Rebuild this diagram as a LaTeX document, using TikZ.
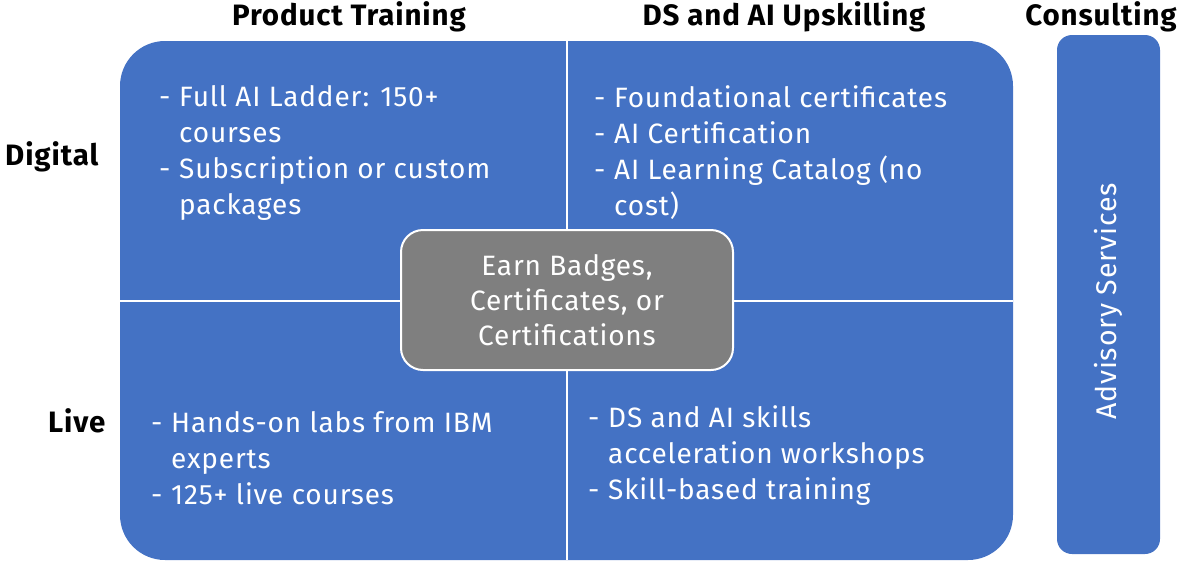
\documentclass[tikz,border=0pt]{standalone}
\usepackage{fontspec}
\usetikzlibrary{calc}
\setmainfont{Fira Sans}[LetterSpace=3]
\definecolor{boxblue}{HTML}{4472C4}
\definecolor{boxgray}{HTML}{7F7F7F}
\newcommand{\dashitem}{\makebox[20pt][l]{-}}
\newcommand{\contline}{\hspace*{20pt}}
\tikzset{
  header/.style={font=\fontsize{29.5}{32}\selectfont\bfseries, text=black, inner sep=0pt},
  listtext/.style={font=\fontsize{28}{36}\selectfont, text=white, align=left, inner sep=0pt, anchor=north west},
  divider/.style={draw=white, line width=2pt},
}
\begin{document}
\begin{tikzpicture}[x=1pt,y=-1pt]
\useasboundingbox (0,0) rectangle (1195,574);
\node[fill=boxblue, rounded corners=45pt, minimum width=893pt, minimum height=519pt, inner sep=0pt] (panel) at (566.5,300.5) {};
\draw[divider] (panel.north) -- (panel.south);
\draw[divider] (panel.west) -- (panel.east);
\node[fill=boxgray, draw=white, line width=2pt, rounded corners=22pt, minimum width=332pt, minimum height=140pt, inner sep=0pt, text=white, align=center, font=\fontsize{28}{35}\selectfont] (center) at (567,300) {Earn Badges,\\Certificates, or\\Certifications};
\node[fill=boxblue, rounded corners=15pt, minimum width=103pt, minimum height=519pt, inner sep=0pt] (bar) at (1108.5,294.5) {};
\node[rotate=90, text=white, font=\fontsize{28.5}{32}\selectfont, inner sep=0pt] (adv) at ($(bar.center)+(0,7)$) {Advisory Services};
\node[header] (h1) at (349,17) {Product Training};
\node[header] (h2) at (784,17) {DS and AI Upskilling};
\node[header] (h3) at (1101,17) {Consulting};
\node[header, anchor=west] (digital) at (5,157) {Digital};
\node[header, anchor=west] (live) at (48,421) {Live};
\node[listtext] (tl) at (159,85) {\dashitem Full AI Ladder: 150+\\\contline courses\\\dashitem Subscription or custom\\\contline packages};
\node[listtext] (tr) at (594,85) {\dashitem Foundational certificates\\\dashitem AI Certification\\\dashitem AI Learning Catalog (no\\\contline cost)};
\node[listtext] (bl) at (151,411) {\dashitem Hands-on labs from IBM\\\contline experts\\\dashitem 125+ live courses};
\node[listtext] (br) at (588,405) {\dashitem DS and AI skills\\\contline acceleration workshops\\\dashitem Skill-based training};
\end{tikzpicture}
\end{document}
